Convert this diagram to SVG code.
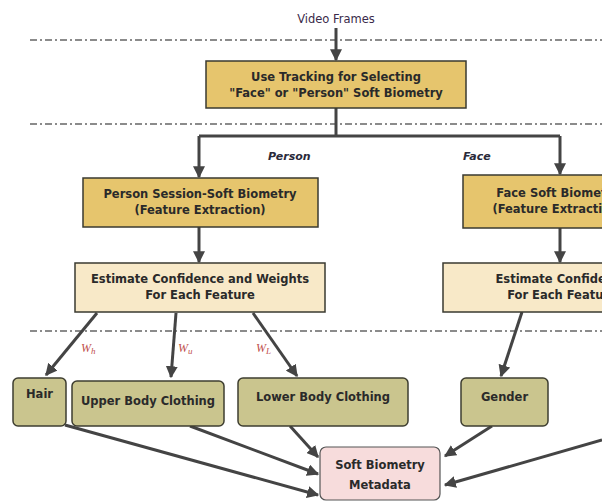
<svg xmlns="http://www.w3.org/2000/svg" width="602" height="502" viewBox="0 0 602 502">
<defs>
<marker id="ah" viewBox="0 0 10 10" refX="9" refY="5" markerWidth="4" markerHeight="4" orient="auto" markerUnits="strokeWidth">
<path d="M0,0 L10,5 L0,10 z" fill="#444"/>
</marker>
<style>
.sep{stroke:#666;stroke-width:1.5;stroke-dasharray:7 3 2 3;fill:none}
.ar{stroke:#444;stroke-width:3;fill:none;marker-end:url(#ah)}
.ln{stroke:#444;stroke-width:3;fill:none}
.gold{fill:#e6c56d;stroke:#3a3a30;stroke-width:1.5}
.light{fill:#f8e9c8;stroke:#3a3a30;stroke-width:1.5}
.olive{fill:#cac58e;stroke:#3e3e30;stroke-width:1.5}
.pink{fill:#f7dcdc;stroke:#555;stroke-width:1.2}
.t{font-family:"DejaVu Sans",Verdana,sans-serif;font-weight:bold;font-size:11.5px;fill:#2a2a2a;text-anchor:middle}
.lab{font-family:"DejaVu Sans",Verdana,sans-serif;font-weight:bold;font-style:italic;font-size:11px;fill:#2a2a3a}
.w{font-family:"Liberation Serif",serif;font-style:italic;font-size:12px;fill:#c0504d}
</style>
</defs>
<line class="sep" x1="30" y1="40" x2="602" y2="40"/>
<line class="sep" x1="30" y1="124" x2="602" y2="124"/>
<line class="sep" x1="30" y1="331" x2="602" y2="331"/>
<text x="336" y="23" font-family="DejaVu Sans,Verdana,sans-serif" font-size="11.5px" fill="#3a2a4a" text-anchor="middle">Video Frames</text>
<g id="connectors">
<path class="ar" d="M336,28 L336,60"/>
<path class="ln" d="M336,108 L336,136"/>
<path class="ln" d="M199,136 L560,136"/>
<path class="ar" d="M199,136 L199,177"/>
<path class="ar" d="M560,136 L560,174"/>
<path class="ar" d="M199,227 L199,262"/>
<path class="ar" d="M560,228 L560,262"/>
<path class="ar" d="M97,313 L46,375"/>
<path class="ar" d="M176,313 L171,377"/>
<path class="ar" d="M253,313 L297,376"/>
<path class="ar" d="M522,312 L501,376"/>
<path class="ar" d="M65,425 L318,495"/>
<path class="ar" d="M190,426 L318,474"/>
<path class="ar" d="M290,426 L318,457"/>
<path class="ar" d="M492,426 L445,456"/>
<path class="ar" d="M602,440 L445,485"/>
<text class="w" x="81" y="352">W<tspan font-size="9px" dy="2">h</tspan></text>
<text class="w" x="178" y="352">W<tspan font-size="9px" dy="2">u</tspan></text>
<text class="w" x="256" y="352">W<tspan font-size="9px" dy="2">L</tspan></text>
<text class="lab" x="268" y="160">Person</text>
<text class="lab" x="463" y="160">Face</text>
</g>
<g id="tracking">
<rect class="gold" x="206" y="61" width="260" height="47"/>
<text class="t" x="336" y="81">Use Tracking for Selecting</text>
<text class="t" x="336" y="97">"Face" or "Person" Soft Biometry</text>
</g>
<g id="person-extraction">
<rect class="gold" x="83" y="178" width="235" height="49"/>
<text class="t" x="200" y="198">Person Session-Soft Biometry</text>
<text class="t" x="200" y="214">(Feature Extraction)</text>
</g>
<g id="face-extraction">
<rect class="gold" x="463" y="175" width="200" height="53"/>
<text class="t" x="558" y="197">Face Soft Biometry</text>
<text class="t" x="558" y="213">(Feature Extraction)</text>
</g>
<g id="person-estimate">
<rect class="light" x="75" y="263" width="250" height="49"/>
<text class="t" x="200" y="283">Estimate Confidence and Weights</text>
<text class="t" x="200" y="299">For Each Feature</text>
</g>
<g id="face-estimate">
<rect class="light" x="443" y="263" width="250" height="49"/>
<text class="t" x="562" y="283">Estimate Confidence</text>
<text class="t" x="562" y="299">For Each Feature</text>
</g>
<g id="hair">
<rect class="olive" x="13" y="378" width="53" height="48" rx="5"/>
<text class="t" x="39.5" y="398">Hair</text>
</g>
<g id="upper">
<rect class="olive" x="72" y="381" width="152" height="45" rx="5"/>
<text class="t" x="148" y="405">Upper Body Clothing</text>
</g>
<g id="lower">
<rect class="olive" x="238" y="378" width="170" height="48" rx="5"/>
<text class="t" x="323" y="401">Lower Body Clothing</text>
</g>
<g id="gender">
<rect class="olive" x="461" y="378" width="87" height="48" rx="5"/>
<text class="t" x="504.5" y="401">Gender</text>
</g>
<g id="metadata">
<rect class="pink" x="320" y="447" width="120" height="53" rx="6"/>
<text class="t" x="380" y="469">Soft Biometry</text>
<text class="t" x="380" y="489">Metadata</text>
</g>
</svg>
